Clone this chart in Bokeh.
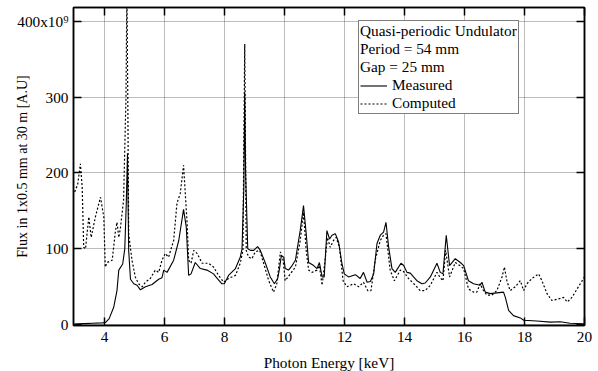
from bokeh.plotting import figure
from bokeh.models import (Range1d, FixedTicker, LinearAxis, Legend, LegendItem, CustomLabelingPolicy)
from bokeh.embed import file_html
from bokeh.resources import INLINE

# ---- data ----
energy_measured = [3.0, 3.3, 3.6, 3.9, 4.03, 4.15, 4.3, 4.41, 4.47, 4.6, 4.67, 4.72, 4.76, 4.8, 4.86,
                   4.97, 5.08, 5.19, 5.36, 5.58, 5.8, 5.91, 5.97, 6.08, 6.3, 6.47, 6.63, 6.72, 6.8, 6.88,
                   7.02, 7.19, 7.41, 7.63, 7.75, 7.91, 7.99, 8.13, 8.36, 8.52, 8.58, 8.64, 8.67, 8.7, 8.77,
                   8.86, 8.97, 9.1, 9.19, 9.36, 9.52, 9.66, 9.77, 9.83, 9.89, 9.97, 10.02, 10.13, 10.25,
                   10.36, 10.52, 10.63, 10.72, 10.8, 10.97, 11.08, 11.16, 11.25, 11.32, 11.41, 11.5, 11.58,
                   11.69, 11.8, 11.91, 11.99, 12.13, 12.36, 12.52, 12.63, 12.75, 12.86, 12.97, 13.08, 13.19,
                   13.3, 13.38, 13.47, 13.58, 13.69, 13.88, 13.97, 14.08, 14.19, 14.41, 14.58, 14.69, 14.86,
                   15.08, 15.19, 15.28, 15.39, 15.5, 15.69, 15.86, 15.97, 16.13, 16.3, 16.52, 16.58, 16.69,
                   16.86, 17.08, 17.3, 17.36, 17.47, 17.63, 17.86, 17.97, 18.41, 18.86, 19.19, 19.52, 19.91,
                   20.0]
flux_measured = [1, 1.5, 2, 2.5, 3, 8, 23, 45, 72, 80, 100, 160, 226, 98, 60,
                 54, 52, 46, 50, 53, 60, 62, 72, 69, 85, 111, 152, 129, 65, 67,
                 82, 74, 72, 67, 61, 54, 54, 65, 74, 89, 100, 180, 306, 200, 100,
                 98, 98, 103, 98, 81, 63, 54, 61, 74, 91, 89, 74, 72, 78,
                 85, 124, 157, 120, 82, 78, 74, 82, 63, 63, 124, 113, 118,
                 120, 109, 81, 67, 63, 66, 61, 69, 56, 57, 67, 107, 118,
                 122, 135, 102, 74, 69, 81, 78, 69, 68, 58, 54, 55, 63,
                 81, 69, 67, 118, 78, 87, 82, 78, 58, 54, 52, 56, 43,
                 41, 42, 43, 36, 19, 12, 9, 6, 5, 3.5, 4, 2, 1.3,
                 1]

energy_computed = [3.0, 3.1, 3.19, 3.25, 3.3, 3.36, 3.47, 3.55, 3.69, 3.86, 3.97, 4.02, 4.08, 4.25, 4.36,
                   4.41, 4.47, 4.52, 4.63, 4.71, 4.74, 4.77, 4.8, 4.91, 5.02, 5.13, 5.25, 5.36, 5.52, 5.69,
                   5.8, 5.91, 6.02, 6.13, 6.3, 6.41, 6.52, 6.63, 6.75, 6.8, 6.88, 6.97, 7.08, 7.25, 7.47,
                   7.63, 7.8, 7.97, 8.13, 8.36, 8.52, 8.61, 8.67, 8.72, 8.8, 8.91, 9.02, 9.17, 9.3, 9.47,
                   9.63, 9.74, 9.86, 9.95, 10.02, 10.19, 10.36, 10.52, 10.63, 10.72, 10.8, 10.91, 11.08,
                   11.16, 11.25, 11.36, 11.43, 11.52, 11.63, 11.72, 11.83, 11.95, 12.08, 12.3, 12.47, 12.63,
                   12.77, 12.88, 13.02, 13.19, 13.3, 13.38, 13.52, 13.66, 13.86, 13.97, 14.13, 14.36, 14.52,
                   14.69, 14.86, 15.08, 15.19, 15.28, 15.37, 15.5, 15.69, 15.84, 15.97, 16.13, 16.3, 16.41,
                   16.52, 16.63, 16.75, 16.91, 17.08, 17.25, 17.33, 17.41, 17.52, 17.69, 17.86, 17.97, 18.08,
                   18.25, 18.47, 18.58, 18.75, 18.91, 19.13, 19.3, 19.43, 19.58, 19.86, 20.0]
flux_computed = [175, 185, 212, 181, 102, 100, 142, 115, 142, 168, 142, 76, 82, 85, 124,
                 135, 115, 126, 164, 300, 440, 300, 120, 85, 63, 54, 50, 56, 61, 72,
                 69, 85, 94, 89, 111, 160, 173, 210, 133, 85, 81, 98, 94, 81, 81,
                 76, 65, 56, 61, 65, 81, 98, 370, 98, 89, 87, 96, 98, 81, 58,
                 43, 54, 96, 85, 58, 67, 76, 111, 148, 98, 72, 69, 72,
                 78, 52, 89, 115, 102, 111, 115, 102, 58, 50, 54, 50, 56,
                 45, 45, 85, 111, 118, 120, 72, 58, 72, 70, 61, 52, 45,
                 45, 52, 69, 62, 58, 98, 63, 82, 78, 74, 47, 43, 43,
                 54, 45, 39, 39, 45, 63, 76, 58, 45, 50, 58, 45, 54,
                 61, 67, 58, 41, 32, 34, 36, 30, 36, 54, 63]

x_ticks = [4, 6, 8, 10, 12, 14, 16, 18, 20]
y_ticks = [0, 100, 200, 300, 400]
y_tick_labels = {400: "400x10\u2079"}

legend_header = "Quasi-periodic Undulator\nPeriod = 54 mm\nGap = 25 mm"
series_names = ["Measured", "Computed"]

FONT = "Liberation Serif"
FS = "15.3px"

p = figure(width=598, height=377, output_backend="svg", toolbar_location=None,
           x_range=Range1d(2.96, 20.0), y_range=Range1d(-1, 418),
           min_border_left=73, min_border_right=14, min_border_top=7, min_border_bottom=52,
           background_fill_color="white", border_fill_color="white")

p.outline_line_color = "black"
p.outline_line_width = 1.5

# axes
for ax in [p.xaxis[0], p.yaxis[0]]:
    ax.major_tick_in = 8
    ax.major_tick_out = 0
    ax.minor_tick_in = 0
    ax.minor_tick_out = 0
    ax.axis_line_color = "black"
    ax.axis_line_width = 1.5
    ax.major_tick_line_width = 1.5
    ax.major_label_text_font = FONT
    ax.major_label_text_font_size = FS
    ax.major_label_text_color = "black"
    ax.axis_label_text_font = FONT
    ax.axis_label_text_font_size = FS
    ax.axis_label_text_font_style = "normal"
    ax.axis_label_text_color = "black"

p.xaxis[0].ticker = FixedTicker(ticks=x_ticks)
p.yaxis[0].ticker = FixedTicker(ticks=y_ticks)
p.yaxis[0].major_label_overrides = y_tick_labels
p.xaxis[0].axis_label = "Photon Energy [keV]"
p.yaxis[0].axis_label = "Flux in 1x0.5 mm at 30 m [A.U]"
p.yaxis[0].axis_label_text_font_size = "14px"
p.xaxis[0].major_label_standoff = 6
p.xaxis[0].axis_label_standoff = 9
p.yaxis[0].major_label_standoff = 5
p.yaxis[0].axis_label_standoff = -16

# mirror ticks top and right (no labels)
no_labels = CustomLabelingPolicy(code="for (const i of Array.from(indices)) indices.unset(i); return indices")
top = LinearAxis(ticker=FixedTicker(ticks=x_ticks), major_tick_in=8, major_tick_out=0,
                 minor_tick_in=0, minor_tick_out=0, major_label_text_font_size="1px",
                 major_label_standoff=0, axis_line_width=1.5, major_tick_line_width=1.5,
                 major_label_policy=no_labels)
right = LinearAxis(ticker=FixedTicker(ticks=y_ticks), major_tick_in=8, major_tick_out=0,
                   minor_tick_in=0, minor_tick_out=0, major_label_text_font_size="1px",
                   major_label_standoff=0, axis_line_width=1.5, major_tick_line_width=1.5,
                   major_label_policy=no_labels)
p.add_layout(top, "above")
p.add_layout(right, "right")

# grid
for g in [p.xgrid[0], p.ygrid[0]]:
    g.grid_line_color = "#555555"
    g.grid_line_width = 0.8
    g.grid_line_dash = "1 1"
p.xgrid[0].ticker = FixedTicker(ticks=x_ticks)
p.ygrid[0].ticker = FixedTicker(ticks=y_ticks)

r_meas = p.line(energy_measured, flux_measured, line_color="black", line_width=1.1)
r_comp = p.line(energy_computed, flux_computed, line_color="black", line_width=1.2, line_dash="2 2")

legend = Legend(items=[LegendItem(label=series_names[0], renderers=[r_meas]),
                       LegendItem(label=series_names[1], renderers=[r_comp])],
                location=(285, 211), title=legend_header,
                title_text_font=FONT, title_text_font_size=FS, title_text_font_style="normal",
                title_text_color="black", title_standoff=-4,
                label_text_font=FONT, label_text_font_size=FS, label_text_color="black",
                label_height=15, glyph_height=15, glyph_width=27, label_standoff=5,
                spacing=-5, padding=1, margin=0,
                border_line_color="black", border_line_width=1.2,
                background_fill_color="white", background_fill_alpha=1.0)
p.add_layout(legend)

open("out.html", "w").write(file_html(p, INLINE))
